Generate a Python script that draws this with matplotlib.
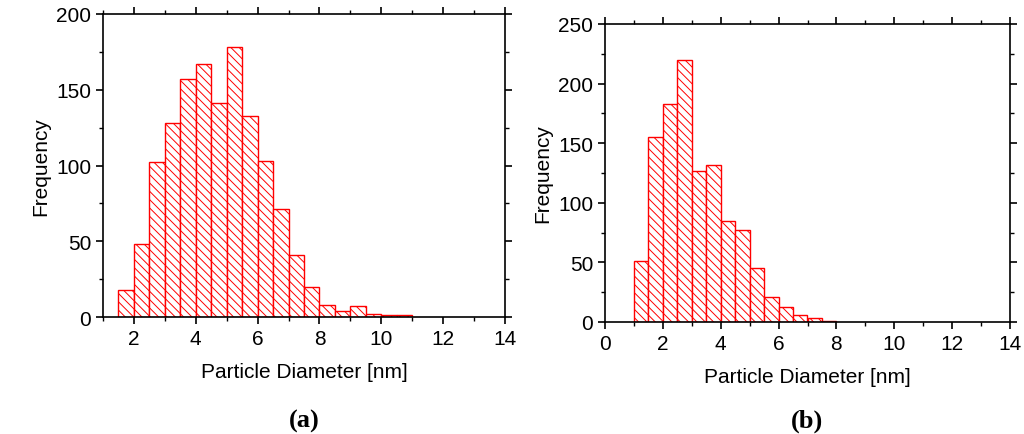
import matplotlib
matplotlib.use("Agg")
import matplotlib.pyplot as plt
from matplotlib.ticker import AutoMinorLocator
import numpy as np

plt.rcParams['hatch.color'] = 'red'
plt.rcParams['hatch.linewidth'] = 0.7
plt.rcParams['font.family'] = 'Liberation Sans'

a_start = 1.5
a_counts = [18, 48, 102, 128, 157, 167, 141, 178, 133, 103, 71, 41, 20, 8, 4, 7, 2, 1, 1]
b_start = 1.0
b_counts = [51, 155, 183, 220, 127, 132, 85, 77, 45, 21, 13, 6, 3, 1]
width = 0.5

fig = plt.figure(figsize=(10.24, 4.35), dpi=100)
ax1 = fig.add_axes([103/1024, 1-318/435, 402/1024, 303/435])
ax2 = fig.add_axes([605/1024, 1-323/435, 405/1024, 298/435])

def draw(ax, start, counts, xlim, xticks, ylim, yticks, label):
    x = start + np.arange(len(counts)) * width
    ax.bar(x, counts, width=width, align='edge', facecolor='white',
           edgecolor='red', hatch='\\\\\\\\', linewidth=1.0)
    ax.set_xlim(*xlim); ax.set_ylim(*ylim)
    ax.set_xticks(xticks); ax.set_yticks(yticks)
    ax.xaxis.set_minor_locator(AutoMinorLocator(2))
    ax.yaxis.set_minor_locator(AutoMinorLocator(2))
    ax.tick_params(labelsize=15, direction='out', length=5, width=1.2)
    ax.tick_params(which='minor', direction='out', length=3, width=1.0)
    ax.tick_params(top=True, right=True, which='both')
    ax.set_xlabel('Particle Diameter [nm]', fontsize=15, labelpad=10)
    ax.set_ylabel('Frequency', fontsize=15)
    for s in ax.spines.values():
        s.set_linewidth(1.2)
    fig.text(ax.get_position().x0 + ax.get_position().width / 2, 0.005, label,
             ha='center', va='bottom', fontsize=19, family='Liberation Serif',
             fontweight='bold')

draw(ax1, a_start, a_counts, (1, 14), range(2, 15, 2), (0, 200), range(0, 201, 50), '(a)')
draw(ax2, b_start, b_counts, (0, 14), range(0, 15, 2), (0, 250), range(0, 251, 50), '(b)')
fig.savefig('out.png', dpi=100)
